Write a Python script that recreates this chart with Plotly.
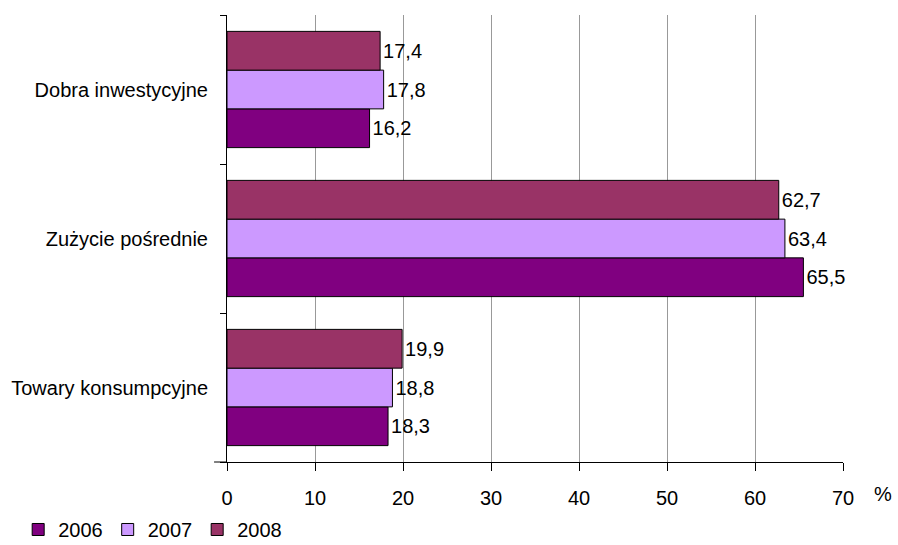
import plotly.graph_objects as go

categories = ["Towary konsumpcyjne", "Zużycie pośrednie", "Dobra inwestycyjne"]
years = ["2006", "2007", "2008"]
v2006 = [18.3, 65.5, 16.2]
v2007 = [18.8, 63.4, 17.8]
v2008 = [19.9, 62.7, 17.4]
colors = ["#800080", "#CC99FF", "#993366"]
x_ticks = [0, 10, 20, 30, 40, 50, 60, 70]

FONT = "Liberation Sans, Arial, sans-serif"
FS = 20

fig = go.Figure()
for name, vals, col in zip(years, [v2006, v2007, v2008], colors):
    fig.add_trace(go.Bar(
        y=categories, x=vals, name=name, orientation="h",
        marker=dict(color=col, line=dict(color="#000000", width=1)),
        text=[f"{v:.1f}".replace(".", ",") for v in vals],
        textposition="outside", cliponaxis=False,
        textfont=dict(family=FONT, size=FS, color="#000"),
    ))

fig.update_layout(
    width=898, height=545,
    margin=dict(l=227, r=55, t=15, b=83, autoexpand=False),
    barmode="group", bargap=0.22, bargroupgap=0,
    plot_bgcolor="white", paper_bgcolor="white",
    font=dict(family=FONT, size=FS, color="#000"),
    showlegend=True,
    legend=dict(orientation="h", x=-0.339, xanchor="left", y=-0.151, yanchor="middle",
                font=dict(size=FS), traceorder="normal", itemwidth=30,
                tracegroupgap=0),
    xaxis=dict(range=[0, 70], tickvals=x_ticks, ticktext=[str(t) for t in x_ticks],
               showgrid=True, gridcolor="#999999", gridwidth=1,
               showline=True, linecolor="#000", linewidth=1,
               ticks="outside", ticklen=8, tickcolor="#000",
               ticklabelstandoff=10,
               zeroline=False, tickfont=dict(size=FS)),
    yaxis=dict(showline=True, linecolor="#000", linewidth=1,
               ticks="outside", ticklen=6, tickcolor="#000",
               tickson="boundaries", showgrid=False,
               ticklabelstandoff=14,
               tickfont=dict(size=FS)),
    annotations=[dict(text="%", x=1.047, y=-0.042, xref="paper", yref="paper",
                      showarrow=False, font=dict(size=FS), xanchor="left", yanchor="top")],
    shapes=[dict(type="line", xref="paper", yref="paper", x0=-0.021, x1=0, y0=0, y1=0,
                 line=dict(color="#000", width=1))],
)

fig.write_html(
    "out.html",
    config={"displayModeBar": False},
    post_script="document.body.style.margin='0';document.body.style.overflow='hidden';",
)
